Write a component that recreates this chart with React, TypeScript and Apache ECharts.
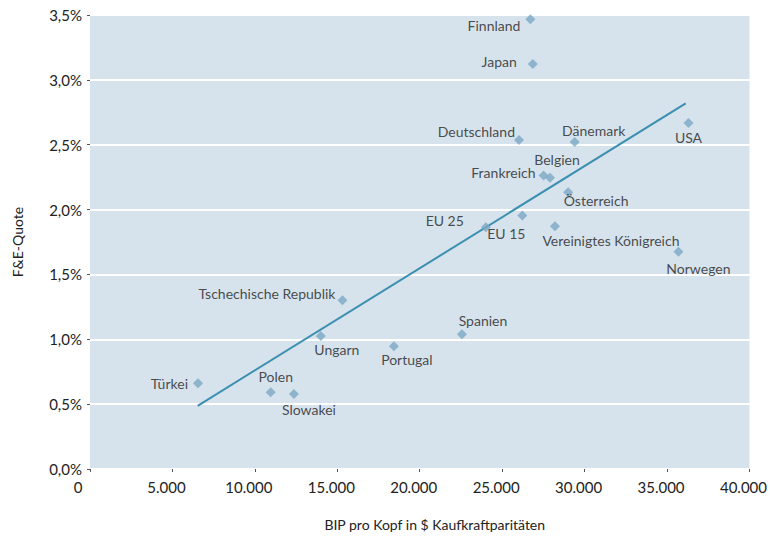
import React, { useEffect, useRef } from "react";
import * as echarts from "echarts";

const countries = [
  "Finnland", "Japan", "Deutschland", "Dänemark", "USA", "Frankreich", "Belgien",
  "Österreich", "EU 15", "EU 25", "Vereinigtes Königreich", "Norwegen",
  "Tschechische Republik", "Ungarn", "Portugal", "Spanien", "Türkei", "Polen", "Slowakei",
];
const gdpPerCapita = [
  26710, 26860, 26020, 29400, 36300, 27510, 27900,
  29000, 26220, 24010, 28200, 35690,
  15310, 14000, 18430, 22560, 6550, 10960, 12370,
];
const rdQuota = [
  3.467, 3.123, 2.536, 2.521, 2.667, 2.262, 2.246,
  2.133, 1.954, 1.864, 1.872, 1.675,
  1.300, 1.026, 0.946, 1.038, 0.662, 0.592, 0.579,
];
const trendX = [6530, 36130];
const trendY = [0.487, 2.818];
const yTicks = [0, 0.5, 1, 1.5, 2, 2.5, 3, 3.5];
const xTicks = [0, 5000, 10000, 15000, 20000, 25000, 30000, 35000, 40000];

// label placement: [align, dx, dy] relative to the marker centre
const labelPlacement: Record<string, [string, number, number]> = {
  "Finnland": ["right", -10, 6],
  "Japan": ["right", -16, -2],
  "Deutschland": ["right", -4, -9],
  "Dänemark": ["center", 19, -11],
  "USA": ["center", 0, 14],
  "Belgien": ["center", 7, -18],
  "Frankreich": ["right", -8, -3],
  "Österreich": ["center", 28, 8],
  "EU 25": ["right", -22, -7],
  "EU 15": ["center", -16, 18],
  "Vereinigtes Königreich": ["center", 56, 14],
  "Norwegen": ["center", 20, 17],
  "Tschechische Republik": ["right", -7, -7],
  "Ungarn": ["center", 16, 14],
  "Portugal": ["center", 13, 13],
  "Spanien": ["center", 21, -14],
  "Türkei": ["right", -10, 0],
  "Polen": ["center", 5, -16],
  "Slowakei": ["center", 15, 16],
};

const FONT = "Lato, 'Noto Sans', sans-serif";
const TEXT = "#222222";
const SYMBOL = 10;

export default function App() {
  const ref = useRef<HTMLDivElement>(null);
  useEffect(() => {
    document.body.style.margin = "0";
    if (!ref.current) return;
    const chart = echarts.init(ref.current, null, { renderer: "svg" });
    const points = countries.map((name, i) => {
      const p = labelPlacement[name];
      return {
        name,
        value: [gdpPerCapita[i], rdQuota[i]],
        label: {
          show: true,
          formatter: name,
          position: [SYMBOL / 2 + p[1], SYMBOL / 2 + p[2]],
          align: p[0],
          verticalAlign: "middle",
          color: TEXT,
          fontSize: 14,
          fontFamily: FONT,
        },
      };
    });
    chart.setOption({
      animation: false,
      textStyle: { fontFamily: FONT },
      grid: {
        left: 90, right: 18, top: 15, bottom: 66,
        show: true, backgroundColor: "#d6e2ec", borderWidth: 0,
      },
      xAxis: {
        type: "value",
        min: xTicks[0],
        max: xTicks[xTicks.length - 1],
        interval: 5000,
        name: "BIP pro Kopf in $ Kaufkraftparitäten",
        nameLocation: "middle",
        nameGap: 48,
        nameTextStyle: { color: TEXT, fontSize: 14, fontFamily: FONT, padding: [0, 0, 0, 30] },
        axisLine: { show: false },
        axisTick: { show: true, length: 3, lineStyle: { color: "#555" } },
        splitLine: { show: false },
        axisLabel: {
          margin: 10,
          padding: [0, 12, 0, 0],
          color: TEXT,
          fontSize: 15,
          fontFamily: FONT,
          formatter: (v: number) =>
            v === 0 ? "{z|0}" : v.toString().replace(/\B(?=(\d{3})+(?!\d))/g, "."),
          rich: { z: { padding: [0, 12, 0, 0], fontSize: 15, fontFamily: FONT, color: TEXT } },
        },
      },
      yAxis: {
        type: "value",
        min: yTicks[0],
        max: yTicks[yTicks.length - 1],
        interval: 0.5,
        name: "F&E-Quote",
        nameLocation: "middle",
        nameGap: 66,
        nameTextStyle: { color: TEXT, fontSize: 14, fontFamily: FONT },
        axisLine: { show: false },
        axisTick: { show: true, length: 3, lineStyle: { color: "#555" } },
        splitLine: { show: true, lineStyle: { color: "#ffffff", width: 2 } },
        axisLabel: {
          margin: 8,
          color: TEXT,
          fontSize: 15,
          fontFamily: FONT,
          formatter: (v: number) => v.toFixed(1).replace(".", ",") + "%",
        },
      },
      series: [
        {
          type: "line",
          data: trendX.map((x, i) => [x, trendY[i]]),
          symbol: "none",
          lineStyle: { color: "#3b8fb0", width: 2 },
          silent: true,
          z: 2,
        },
        {
          type: "scatter",
          data: points,
          symbol: "diamond",
          symbolSize: SYMBOL,
          itemStyle: { color: "#7aa9c4" },
          z: 3,
          labelLayout: { hideOverlap: false },
        },
      ],
    });
    return () => chart.dispose();
  }, []);
  return <div ref={ref} style={{ width: 770, height: 536 }} />;
}
